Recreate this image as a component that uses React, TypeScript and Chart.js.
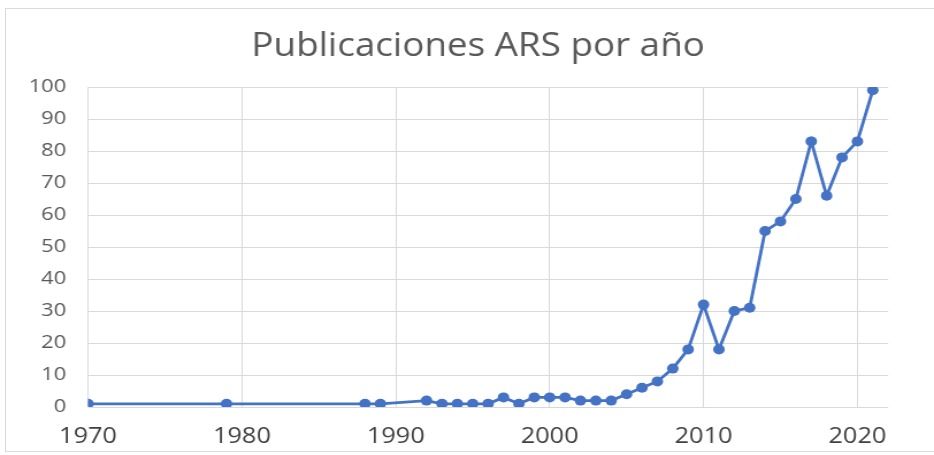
import React, { useEffect, useRef } from "react";
import { Chart, registerables } from "chart.js";

Chart.register(...registerables);

const years = [1970, 1979, 1988, 1989, 1992, 1993, 1994, 1995, 1996, 1997, 1998, 1999, 2000, 2001, 2002, 2003, 2004, 2005, 2006, 2007, 2008, 2009, 2010, 2011, 2012, 2013, 2014, 2015, 2016, 2017, 2018, 2019, 2020, 2021];
const counts = [1, 1, 1, 1, 2, 1, 1, 1, 1, 3, 1, 3, 3, 3, 2, 2, 2, 4, 6, 8, 12, 18, 32, 18, 30, 31, 55, 58, 65, 83, 66, 78, 83, 99];
const title = "Publicaciones ARS por año";
const xMin = 1970;
const xMax = 2022;
const yMin = 0;
const yMax = 100;

// the reference picture is stretched horizontally; draw narrower and stretch with CSS
const STRETCH = 1.15;
const CSS_W = 934;
const CSS_H = 455;
const INT_W = Math.round(CSS_W / STRETCH);

export default function App() {
  const ref = useRef<HTMLCanvasElement | null>(null);
  useEffect(() => {
    document.body.style.margin = "0";
    const ctx = ref.current!;
    const font = "'Open Sans', sans-serif";
    const titlePlugin = {
      id: "customTitle",
      afterDraw(chart: any) {
        const c = chart.ctx;
        c.save();
        c.fillStyle = "#595959";
        c.font = `32px ${font}`;
        c.textAlign = "center";
        c.textBaseline = "alphabetic";
        c.fillText(title, 478 / STRETCH, 56);
        c.restore();
      },
    };
    const chart = new Chart(ctx, {
      type: "line",
      data: {
        datasets: [
          {
            data: years.map((y, i) => ({ x: y, y: counts[i] })),
            borderColor: "#4472C4",
            backgroundColor: "#4472C4",
            borderWidth: 2.8,
            pointRadius: 5,
            pointBorderWidth: 0,
            tension: 0,
          },
        ],
      },
      plugins: [titlePlugin],
      options: {
        animation: false,
        responsive: false,
        maintainAspectRatio: false,
        devicePixelRatio: 1,
        layout: { padding: { left: 0, right: INT_W - 888 / STRETCH, top: 87, bottom: 5 } },
        plugins: {
          legend: { display: false },
          tooltip: { enabled: false },
          title: { display: false },
        },
        scales: {
          x: {
            type: "linear",
            min: xMin,
            max: xMax,
            ticks: {
              stepSize: 10,
              includeBounds: false,
              color: "#404040",
              font: { family: font, size: 22 },
              padding: 17,
              maxRotation: 0,
              callback: (v: any) => String(v),
            },
            grid: { color: "#d9d9d9", lineWidth: 1, drawTicks: false },
            border: { display: false },
            afterFit: (s: any) => {
              s.height = 43;
            },
          },
          y: {
            min: yMin,
            max: yMax,
            ticks: {
              stepSize: 10,
              color: "#595959",
              font: { family: font, size: 19 },
              padding: 19,
            },
            grid: { color: "#d9d9d9", lineWidth: 1, drawTicks: false },
            border: { display: false },
            afterFit: (s: any) => {
              s.width = 88 / STRETCH;
            },
          },
        },
      },
    });
    return () => chart.destroy();
  }, []);
  return (
    <div style={{ position: "relative", width: CSS_W, height: CSS_H, background: "#fff", overflow: "hidden" }}>
      <canvas
        ref={ref}
        width={INT_W}
        height={CSS_H}
        style={{ display: "block", width: CSS_W, height: CSS_H }}
      />
      <div
        style={{
          position: "absolute",
          left: 5,
          top: 8,
          width: 940,
          height: 442,
          border: "1px solid #d9d9d9",
          pointerEvents: "none",
        }}
      />
    </div>
  );
}
